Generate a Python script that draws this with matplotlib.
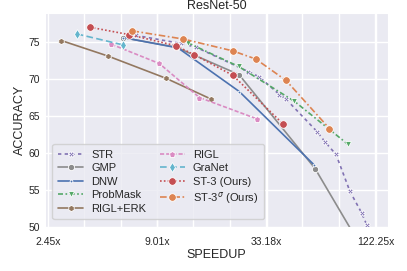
import matplotlib
matplotlib.use("Agg")
import matplotlib.pyplot as plt
import matplotlib.ticker as mticker
import numpy as np
import seaborn as sns

# speedup (x) / top-1 accuracy (y)
str_x = [6.97, 11.97, 14.31, 26.7, 30.4, 38.7, 41.8, 60.6, 66.7, 76.0, 89.8, 103.2, 109.6]
str_y = [75.9, 74.8, 74.3, 71.0, 70.3, 67.9, 67.3, 62.9, 61.5, 59.8, 54.8, 51.9, 50.3]

gmp_x = [5.96, 11.28, 23.9, 59.2, 122.0]
gmp_y = [75.6, 74.3, 70.6, 57.9, 44.0]

dnw_x = [6.0, 11.55, 24.0, 58.5]
dnw_y = [75.6, 74.2, 68.3, 58.4]

probmask_x = [12.96, 23.76, 46.2, 87.4]
probmask_y = [74.9, 71.7, 67.0, 61.2]

riglerk_x = [2.87, 5.01, 10.0, 17.08]
riglerk_y = [75.2, 73.1, 70.1, 67.3]

rigl_x = [5.21, 9.23, 14.9, 29.7]
rigl_y = [74.7, 72.1, 67.5, 64.6]

granet_x = [3.45, 6.01]
granet_y = [76.1, 74.6]

st3_x = [4.04, 6.44, 11.24, 13.97, 22.2, 40.5]
st3_y = [77.0, 76.0, 74.5, 73.3, 70.5, 63.9]

st3s_x = [6.70, 12.30, 22.2, 29.2, 41.9, 70.3]
st3s_y = [76.5, 75.4, 73.8, 72.7, 69.8, 63.3]

tick_vals = [2.45, 9.01, 33.18, 122.25]
tick_labels = ["2.45x", "9.01x", "33.18x", "122.25x"]

sns.set_style("darkgrid")
plt.rcParams['font.family'] = ['Liberation Sans', 'DejaVu Sans']

fig = plt.figure(figsize=(4.07, 2.71), dpi=100)
ax = fig.add_axes([0.1106, 0.1624, 0.8427, 0.7896])

pal = sns.color_palette("deep")
series = [
    ("STR", str_x, str_y, pal[4], (0, (2, 2)), "X", 4),
    ("GMP", gmp_x, gmp_y, pal[7], "-", "o", 4.5),
    ("DNW", dnw_x, dnw_y, pal[0], "-", ".", 4),
    ("ProbMask", probmask_x, probmask_y, pal[2], (0, (3, 1.5, 1, 1.5)), "v", 4.5),
    ("RIGL+ERK", riglerk_x, riglerk_y, pal[5], "-", "h", 4.5),
    ("RIGL", rigl_x, rigl_y, pal[6], (0, (2.5, 1.2)), "p", 4.5),
    ("GraNet", granet_x, granet_y, pal[9], (0, (4, 2)), "d", 5),
    ("ST-3 (Ours)", st3_x, st3_y, pal[3], (0, (1, 1.3)), "o", 5.5),
    ("ST-3$^\\sigma$ (Ours)", st3s_x, st3s_y, pal[1], (0, (4, 1.5, 1, 1.5)), "o", 5.5),
]

for name, xs, ys, c, ls, mk, ms in series:
    ax.plot(xs, ys, color=c, linestyle=ls, marker=mk, markersize=ms,
            markeredgecolor="white", markeredgewidth=0.6, lw=1.2, label=name)

ax.set_xscale("log")
ax.set_xlim(2.363, 141.3)
ax.set_ylim(50, 78.92)

# gridlines every third of a labelled step
minor = [np.exp(np.log(2.45) + k * 1.3 / 3) for k in range(0, 10)]
ax.xaxis.set_major_locator(mticker.FixedLocator(tick_vals))
ax.xaxis.set_major_formatter(mticker.FixedFormatter(tick_labels))
ax.xaxis.set_minor_locator(mticker.FixedLocator(minor))
ax.xaxis.set_minor_formatter(mticker.NullFormatter())
ax.set_yticks([50, 55, 60, 65, 70, 75])
ax.grid(True, which="both", axis="x", color="white", lw=1.0)
ax.grid(True, which="major", axis="y", color="white", lw=1.0)
ax.tick_params(axis="both", which="both", length=0, labelsize=7.5, colors="#262626")
ax.tick_params(axis="x", pad=7)

ax.set_title("ResNet-50", fontsize=9, pad=3)
ax.set_xlabel("SPEEDUP", fontsize=9, labelpad=2)
ax.set_ylabel("ACCURACY", fontsize=9, labelpad=2)

ax.legend(loc="lower left", ncol=2, fontsize=8, frameon=True,
          bbox_to_anchor=(0.005, 0.01), handlelength=2.3, columnspacing=1.2,
          labelspacing=0.32, borderpad=0.5, handletextpad=0.7)

plt.savefig("out.png", dpi=100)
plt.close()
